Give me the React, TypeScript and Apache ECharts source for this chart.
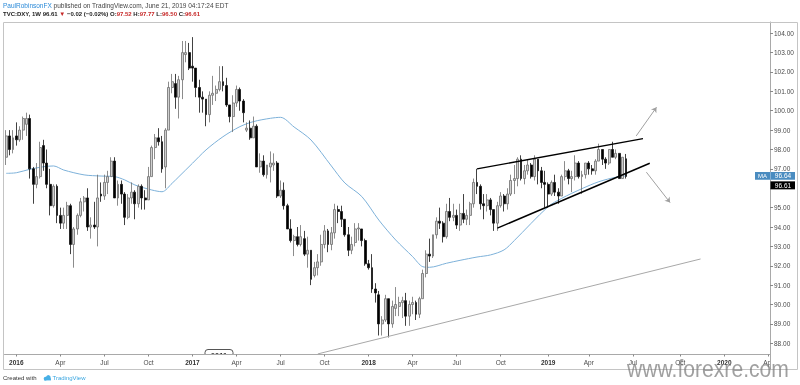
import React, { useEffect, useRef } from "react";
import * as echarts from "echarts";

// ---- categories: weekly bars, first bar week of 2015-12-14, last category 2020-04-06
const FIRST_WEEK_UTC = Date.UTC(2015, 11, 14);
const WEEK_COUNT = 226;
const MONTHS = ["Jan", "Feb", "Mar", "Apr", "May", "Jun", "Jul", "Aug", "Sep", "Oct", "Nov", "Dec"];
const LABEL_MONTHS = [0, 3, 6, 9];

// ---- weekly candles [open, close, low, high]
const candles2016: number[][] = [
  [97.6, 98.7, 97.2, 99.0], [98.7, 98.0, 97.7, 99.0], [98.0, 98.6, 97.8, 99.0], [98.7, 98.5, 98.2, 99.4],
  [98.5, 99.0, 98.4, 99.2], [99.0, 99.6, 98.5, 99.7], [99.3, 99.6, 98.7, 99.9], [99.6, 97.0, 96.5, 99.8],
  [97.0, 96.2, 95.2, 97.1], [96.2, 96.6, 96.0, 97.3], [96.6, 98.1, 96.5, 98.4], [98.2, 97.3, 96.9, 98.5],
  [97.3, 96.2, 96.0, 98.0], [96.2, 95.1, 94.6, 97.0], [95.1, 96.1, 95.0, 96.2], [96.1, 94.6, 94.2, 96.2],
  [94.6, 94.2, 93.9, 95.0], [94.2, 94.6, 93.9, 95.0], [94.6, 95.1, 93.9, 95.3], [95.1, 93.1, 92.6, 95.2],
  [93.1, 93.9, 91.9, 94.0], [93.9, 94.6, 93.6, 94.7], [94.6, 95.3, 94.5, 95.5], [95.3, 95.5, 94.8, 95.6],
  [95.5, 94.0, 93.8, 96.0], [94.0, 94.1, 93.4, 94.5], [94.1, 94.0, 93.9, 95.3], [94.0, 95.5, 93.0, 96.7],
  [95.7, 95.6, 95.3, 96.3], [95.6, 96.3, 95.4, 96.7], [96.3, 96.6, 95.7, 96.9], [96.6, 97.4, 96.6, 97.6],
  [97.4, 95.5, 95.5, 97.6], [95.5, 96.2, 95.1, 96.4], [96.2, 95.7, 95.2, 96.4], [95.7, 94.5, 94.1, 95.8],
  [94.5, 95.5, 94.4, 95.7], [95.5, 95.8, 95.2, 96.3], [95.8, 95.2, 94.4, 95.9], [95.2, 96.1, 95.0, 96.2],
  [96.1, 95.5, 94.9, 96.2], [95.5, 95.4, 94.9, 95.9], [95.4, 96.6, 95.4, 97.1], [96.6, 98.1, 96.6, 98.2],
  [98.1, 98.6, 97.5, 98.8], [98.6, 98.4, 98.2, 99.1], [98.4, 97.0, 96.8, 98.7], [97.1, 99.0, 96.0, 99.1],
  [99.0, 101.2, 99.0, 101.5], [101.2, 101.5, 100.9, 101.9], [101.4, 100.7, 100.1, 101.9], [100.7, 101.6, 99.6, 101.8],
  [101.6, 103.0, 100.6, 103.6], [102.9, 103.0, 102.5, 103.6], [103.0, 102.2, 102.1, 103.5],
];
const candles2017: number[][] = [
  [102.3, 102.2, 101.5, 103.8], [102.2, 101.2, 100.7, 102.2], [101.2, 100.7, 99.9, 101.6], [100.7, 100.6, 99.9, 101.0],
  [100.6, 99.8, 99.2, 100.6], [99.8, 100.8, 99.4, 101.0], [100.8, 100.9, 100.3, 101.8], [100.9, 101.1, 100.5, 101.3],
  [101.1, 101.5, 101.0, 102.3], [101.5, 101.3, 101.0, 102.3], [101.3, 100.3, 100.2, 101.7], [100.3, 99.7, 99.4, 100.3],
  [99.7, 100.4, 98.9, 100.8], [100.4, 101.1, 100.2, 101.3], [101.1, 100.5, 100.0, 101.2], [100.5, 99.9, 99.4, 100.6],
  [99.0, 99.1, 98.9, 99.4], [99.1, 98.6, 98.5, 99.5], [98.6, 99.2, 98.6, 99.7], [99.2, 97.1, 97.1, 99.3],
  [97.1, 97.4, 96.8, 97.8], [97.4, 96.7, 96.6, 97.7], [96.7, 97.2, 96.5, 97.2], [97.1, 97.3, 96.3, 97.9],
  [97.2, 97.3, 96.9, 97.8], [97.3, 95.6, 95.5, 97.4], [95.6, 95.9, 95.5, 96.4], [95.9, 95.1, 94.9, 96.3],
  [95.1, 93.9, 93.9, 95.2], [93.9, 93.3, 93.2, 94.4], [93.3, 93.5, 92.5, 93.6], [93.5, 93.1, 93.0, 94.0],
  [93.1, 93.5, 93.0, 94.1], [93.4, 92.6, 92.5, 93.8], [92.6, 92.8, 91.9, 93.5], [92.8, 91.3, 91.0, 92.8],
  [91.5, 91.9, 91.4, 92.2], [91.9, 92.2, 91.5, 92.6], [92.2, 93.1, 92.0, 93.6], [93.1, 93.8, 92.9, 94.1],
  [93.8, 93.1, 92.7, 93.9], [93.1, 93.7, 92.8, 94.0], [93.7, 94.9, 93.4, 95.2], [94.9, 94.8, 94.2, 95.1],
  [94.8, 94.4, 94.0, 95.1], [94.4, 93.6, 93.5, 94.4], [93.6, 92.8, 92.5, 94.0], [92.8, 93.1, 92.6, 93.5],
  [93.2, 93.9, 93.0, 94.2], [93.9, 93.95, 93.3, 94.2], [93.9, 93.3, 93.0, 93.9], [93.3, 92.1, 92.0, 93.4],
];
const candles2018: number[][] = [
  [92.1, 91.9, 91.8, 92.3], [91.9, 90.8, 90.6, 92.6], [90.8, 90.6, 90.1, 91.1], [90.5, 89.0, 88.4, 90.7],
  [89.0, 89.2, 88.4, 89.4], [89.2, 90.3, 89.1, 90.5], [90.3, 89.0, 88.3, 90.3], [89.0, 89.9, 88.8, 90.2],
  [89.8, 90.0, 89.4, 90.9], [89.9, 90.1, 89.4, 90.4], [90.1, 90.2, 89.3, 90.4], [90.2, 89.4, 88.9, 90.6],
  [89.4, 90.0, 88.9, 90.2], [90.0, 90.1, 89.5, 90.4], [90.1, 89.5, 89.2, 90.2], [89.5, 90.3, 89.3, 90.4],
  [90.3, 91.6, 90.3, 91.8], [91.6, 92.6, 91.4, 92.8], [92.6, 92.5, 92.2, 93.4], [92.5, 93.6, 92.4, 93.6],
  [93.6, 94.3, 93.4, 94.5], [94.3, 94.2, 93.9, 95.0], [94.2, 93.5, 93.2, 94.3], [93.5, 94.8, 93.4, 95.2],
  [94.8, 94.5, 94.3, 95.5], [94.5, 94.6, 94.3, 95.2], [94.6, 94.1, 93.9, 94.9], [94.1, 94.7, 93.8, 95.2],
  [94.7, 94.4, 94.2, 95.7], [94.4, 94.6, 94.1, 94.9], [94.6, 95.2, 94.1, 95.3], [95.2, 96.3, 95.0, 96.5],
  [96.3, 96.1, 95.7, 97.0], [96.1, 95.2, 94.9, 96.2], [95.2, 95.1, 94.4, 95.7], [95.1, 95.4, 94.8, 95.7],
  [95.4, 94.9, 94.6, 95.5], [94.9, 94.2, 93.8, 94.9], [94.2, 95.1, 93.8, 95.3], [95.1, 95.6, 95.0, 95.8],
  [95.6, 95.2, 94.8, 95.7], [95.2, 95.7, 94.9, 96.0], [95.7, 96.4, 95.6, 96.7], [96.4, 96.5, 95.7, 97.2],
  [96.5, 97.5, 96.1, 97.6], [97.5, 96.5, 96.4, 97.7], [96.5, 96.9, 96.2, 97.2], [96.9, 97.2, 96.7, 97.5],
  [97.2, 96.6, 96.5, 97.3], [96.6, 97.5, 96.4, 97.7], [97.5, 96.9, 96.2, 97.5], [96.9, 96.3, 96.0, 97.1],
  [96.3, 96.2, 95.0, 96.9],
];
const candles2019: number[][] = [
  [96.2, 95.7, 95.0, 96.3], [95.7, 96.3, 95.6, 96.4], [96.3, 95.8, 95.6, 96.7], [95.8, 95.6, 95.2, 96.0],
  [95.6, 96.6, 95.6, 96.7], [96.6, 96.9, 96.4, 97.4], [96.9, 96.5, 96.2, 97.0], [96.5, 96.6, 95.8, 96.9],
  [96.6, 97.3, 96.4, 97.7], [97.3, 96.6, 96.5, 97.4], [96.6, 96.7, 95.7, 96.9], [96.7, 97.3, 96.5, 97.3],
  [97.3, 97.0, 96.7, 97.4], [97.0, 96.9, 96.7, 97.2], [96.9, 97.4, 96.7, 97.5], [97.4, 98.0, 97.4, 98.3],
  [98.0, 97.5, 97.2, 98.0], [97.5, 97.3, 97.0, 97.6], [97.3, 98.0, 97.2, 98.0], [98.0, 97.6, 97.6, 98.4],
  [97.6, 97.8, 97.5, 98.0], [97.8, 96.5, 96.5, 97.8], [96.5, 97.6, 96.5, 97.6], [97.52, 96.61, 96.5, 97.77],
];

// ---- moving average: [week index, value]
const maPoints: number[][] = [
  [0, 96.77], [3, 96.8], [7, 96.98], [11, 97.11], [14, 97.15], [17, 96.94], [23, 96.69], [28, 96.63],
  [32, 96.6], [35, 96.43], [38, 96.17], [43, 95.91], [46, 95.82], [49, 96.26], [51, 96.6], [55, 97.29],
  [59, 97.98], [64, 98.66], [69, 99.18], [73, 99.44], [78, 99.61], [81, 99.66], [85, 99.16], [90, 98.49],
  [96, 97.15], [100, 96.27], [105, 95.57], [110, 94.36], [115, 93.33], [120, 92.47], [123, 91.95], [125, 91.92],
  [130, 92.13], [134, 92.28], [139, 92.45], [143, 92.56], [147, 92.82], [150, 93.3], [160, 95.05], [164, 95.48],
  [170, 95.98], [175, 96.34], [180, 96.57], [183, 96.64],
];
const MA_LAST = 96.64;
const HIDDEN_SCALE_LABEL = 96; // covered by the last-price tag on the price scale

// ---- drawn trend lines: [[week index, price], [week index, price]]
const wedgeUpper = [[139, 97.0], [188, 98.56]];
const wedgeLower = [[145, 93.94], [190, 97.29]];
const arrowUp = [[186, 98.7], [192, 100.18]];
const arrowDown = [[189, 96.83], [196, 95.26]];
const longSupport = [[92, 87.45], [205, 92.35]];

const Y_MIN = 87.42;
const Y_MAX = 104.58;

function buildWeeks(): string[] {
  const out: string[] = [];
  for (let i = 0; i < WEEK_COUNT; i++) {
    out.push(new Date(FIRST_WEEK_UTC + i * 7 * 86400000).toISOString().slice(0, 10));
  }
  return out;
}

function isPeriodStart(value: string): boolean {
  const d = new Date(value + "T00:00:00Z");
  return LABEL_MONTHS.indexOf(d.getUTCMonth()) >= 0 && d.getUTCDate() <= 7;
}

const FONT = "Liberation Sans";

export default function App() {
  const ref = useRef<HTMLDivElement>(null);
  useEffect(() => {
    if (!ref.current) return;
    const chart = echarts.init(ref.current, null, { renderer: "svg" });
    const weeks = buildWeeks();
    const candles = [...candles2016, ...candles2017, ...candles2018, ...candles2019];
    const ma = maPoints.map((p) => [weeks[p[0]], p[1]]);
    const seg = (pts: number[][], color: string, width: number, arrow: boolean) => [
      { coord: [weeks[pts[0][0]], pts[0][1]], symbol: "none", lineStyle: { color, width, type: "solid" } },
      { coord: [weeks[pts[1][0]], pts[1][1]], symbol: arrow ? "arrow" : "none", symbolSize: arrow ? 5 : 0 },
    ];

    const option: any = {
      animation: false,
      grid: { left: 4.5, right: 30, top: 22, bottom: 30.5, containLabel: false },
      xAxis: {
        type: "category",
        data: weeks,
        boundaryGap: true,
        axisLine: { show: true, lineStyle: { color: "#a9a9a9", width: 1 } },
        axisTick: {
          show: true,
          alignWithLabel: true,
          length: 2,
          interval: (_i: number, v: string) => isPeriodStart(v),
          lineStyle: { color: "#888" },
        },
        axisLabel: {
          interval: (_i: number, v: string) => isPeriodStart(v),
          margin: 4,
          fontSize: 6.5,
          fontFamily: FONT,
          color: "#4a4a4a",
          formatter: (v: string) => {
            const d = new Date(v + "T00:00:00Z");
            const m = d.getUTCMonth();
            return m === 0 ? "{y|" + d.getUTCFullYear() + "}" : MONTHS[m];
          },
          rich: { y: { fontWeight: "bold", fontSize: 6.5, fontFamily: FONT, color: "#333" } },
        },
        splitLine: { show: false },
      },
      yAxis: {
        type: "value",
        position: "right",
        min: Y_MIN,
        max: Y_MAX,
        minInterval: 1,
        maxInterval: 1,
        splitNumber: 17,
        axisLine: { show: true, lineStyle: { color: "#a9a9a9", width: 1 } },
        axisTick: { show: true, length: 3, lineStyle: { color: "#888" } },
        axisLabel: {
          margin: 4,
          fontSize: 6.5,
          fontFamily: FONT,
          color: "#4a4a4a",
          showMinLabel: false,
          showMaxLabel: false,
          formatter: (v: number) => (Math.abs(v - HIDDEN_SCALE_LABEL) < 1e-6 ? "" : v.toFixed(2)),
        },
        splitLine: { show: false },
      },
      series: [
        {
          type: "line",
          name: "MA",
          data: ma,
          showSymbol: false,
          smooth: 0.3,
          z: 1,
          lineStyle: { color: "#7db1d9", width: 1 },
          silent: true,
        },
        {
          type: "candlestick",
          name: "DXY",
          data: candles,
          barWidth: 2.4,
          z: 2,
          silent: true,
          itemStyle: {
            color: "#d0d0d0",
            borderColor: "#6e6e6e",
            color0: "#000000",
            borderColor0: "#111111",
            borderWidth: 0.8,
          },
          markLine: {
            silent: true,
            animation: false,
            label: { show: false },
            emphasis: { disabled: true },
            data: [
              seg(wedgeUpper, "#000", 1.4, false),
              seg(wedgeLower, "#000", 1.4, false),
              seg(arrowUp, "#a0a0a0", 1, true),
              seg(arrowDown, "#a0a0a0", 1, true),
              seg(longSupport, "#a8a8a8", 1, false),
            ],
          },
        },
      ],
    };
    chart.setOption(option);

    const maY = chart.convertToPixel({ yAxisIndex: 0 }, MA_LAST) as number;
    const closeY = maY + 9.5;
    const txt = (x: number, y: number, text: string, extra: any = {}) => ({
      type: "text",
      x,
      y,
      z: 50,
      style: { text, fontSize: 6.5, fontFamily: FONT, fill: "#444", verticalAlign: "middle", ...extra },
    });

    const graphic: any[] = [
      // frame
      { type: "rect", z: 40, shape: { x: 3.5, y: 22.5, width: 794, height: 347 }, style: { fill: "none", stroke: "#c4c4c4", lineWidth: 1 } },
      // "2011" badge partly hidden under the time axis
      { type: "rect", z: 41, shape: { x: 205, y: 349.5, width: 28, height: 9, r: 3 }, style: { fill: "#fff", stroke: "#555", lineWidth: 1 } },
      txt(219, 355, "2011", { align: "center", fontWeight: "bold", fontSize: 7.5, fill: "#333" }),
      { type: "rect", z: 60, shape: { x: 203, y: 355, width: 32, height: 5.5 }, style: { fill: "#fff" } },
      { type: "line", z: 61, shape: { x1: 203, y1: 354.5, x2: 235, y2: 354.5 }, style: { stroke: "#a9a9a9", lineWidth: 1 } },
      // hide overflow of last x label past price scale
      { type: "rect", z: 60, shape: { x: 771, y: 356, width: 26, height: 12 }, style: { fill: "#fff" } },
      { type: "line", z: 61, shape: { x1: 770.5, y1: 354, x2: 770.5, y2: 369.5 }, style: { stroke: "#a9a9a9", lineWidth: 1 } },
      // header
      {
        type: "text", x: 3, y: 5, z: 50,
        style: {
          text: "{a|PaulRobinsonFX}{b| published on TradingView.com, June 21, 2019 04:17:24 EDT}",
          verticalAlign: "middle",
          fontSize: 6.5, fontFamily: FONT,
          rich: {
            a: { fill: "#2b8ad8", fontSize: 6.5, fontFamily: FONT },
            b: { fill: "#444", fontSize: 6.5, fontFamily: FONT },
          },
        },
      },
      {
        type: "text", x: 3, y: 13.5, z: 50,
        style: {
          text: "{k|TVC:DXY, 1W 96.61 }{r|▼}{k| −0.02 (−0.02%) O:}{r|97.52}{k| H:}{r|97.77}{k| L:}{r|96.50}{k| C:}{r|96.61}",
          verticalAlign: "middle",
          fontSize: 6, fontFamily: FONT, fontWeight: "bold",
          rich: {
            k: { fill: "#222", fontSize: 6, fontFamily: FONT, fontWeight: "bold" },
            r: { fill: "#c62828", fontSize: 6, fontFamily: FONT, fontWeight: "bold" },
          },
        },
      },
      // price scale labels
      { type: "rect", z: 50, shape: { x: 755, y: maY - 3.8, width: 40, height: 7.6 }, style: { fill: "#4a8cc0" } },
      { type: "line", z: 51, shape: { x1: 770.5, y1: maY - 3.8, x2: 770.5, y2: maY + 3.8 }, style: { stroke: "#a9cbe6", lineWidth: 0.6 } },
      txt(762.5, maY, "MA", { align: "center", fill: "#fff", fontSize: 6 }),
      txt(783, maY, "96.64", { align: "center", fill: "#fff", fontSize: 6.5 }),
      { type: "rect", z: 50, shape: { x: 770.5, y: closeY - 4, width: 24.5, height: 8 }, style: { fill: "#000" } },
      txt(783, closeY, "96.61", { align: "center", fill: "#fff", fontSize: 6.5 }),
      // footer
      txt(3, 378, "Created with", { fontSize: 6, fill: "#333" }),
      { type: "circle", z: 50, shape: { cx: 45.5, cy: 378.6, r: 1.8 }, style: { fill: "#48b0e6" } },
      { type: "circle", z: 50, shape: { cx: 48.3, cy: 377.4, r: 2.3 }, style: { fill: "#48b0e6" } },
      { type: "rect", z: 50, shape: { x: 44, y: 378.2, width: 7, height: 2.2 }, style: { fill: "#48b0e6" } },
      txt(52.5, 378, "TradingView", { fontSize: 6, fill: "#3aa6e0" }),
      // watermark
      {
        type: "text", x: 627, y: 381, z: 70, scaleX: 0.88,
        style: { text: "www.forexre.com", fontSize: 24, fontFamily: FONT, fill: "rgba(120,120,120,0.7)", verticalAlign: "bottom" },
      },
    ];
    chart.setOption({ graphic });

    return () => chart.dispose();
  }, []);
  return <div ref={ref} style={{ position: "fixed", left: 0, top: 0, width: 800, height: 385 }} />;
}
